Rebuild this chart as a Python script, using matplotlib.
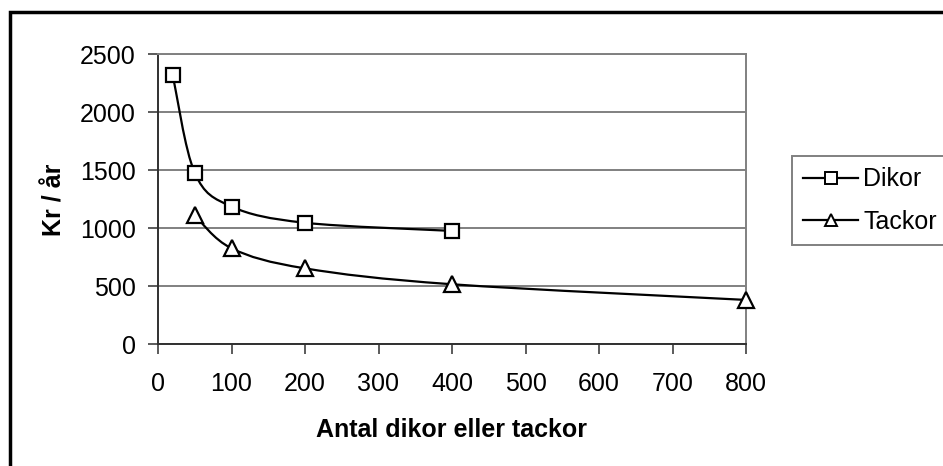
import matplotlib
matplotlib.use("Agg")
import matplotlib.pyplot as plt
from matplotlib.path import Path
from matplotlib.patches import PathPatch, Rectangle
from matplotlib.lines import Line2D
import numpy as np

plt.rcParams['font.family'] = ['Liberation Sans', 'DejaVu Sans']

dikor_x = [20, 50, 100, 200, 400]
dikor_y = [2320, 1475, 1185, 1045, 975]
tackor_x = [50, 100, 200, 400, 800]
tackor_y = [1110, 825, 652, 515, 380]
xticks = [0, 100, 200, 300, 400, 500, 600, 700, 800]
yticks = [0, 500, 1000, 1500, 2000, 2500]
series_names = ["Dikor", "Tackor"]
xlabel = "Antal dikor eller tackor"
ylabel = "Kr / år"

W, H = 943, 466
fig = plt.figure(figsize=(W / 100, H / 100), dpi=100)
ax = fig.add_axes([158 / W, 1 - 344 / H, (746 - 158) / W, (344 - 54) / H])

FS = 18


def smooth_path(xs, ys):
    pts = np.column_stack([xs, ys]).astype(float)
    n = len(pts)
    verts = [pts[0]]
    codes = [Path.MOVETO]
    for i in range(n - 1):
        p0 = pts[i - 1] if i > 0 else pts[i]
        p1 = pts[i]
        p2 = pts[i + 1]
        p3 = pts[i + 2] if i + 2 < n else pts[i + 1]
        c1 = p1 + (p2 - p0) / 6.0
        c2 = p2 - (p3 - p1) / 6.0
        verts += [c1, c2, p2]
        codes += [Path.CURVE4] * 3
    return Path(verts, codes)


for xs, ys, mk in [(dikor_x, dikor_y, 's'), (tackor_x, tackor_y, '^')]:
    patch = PathPatch(smooth_path(xs, ys), facecolor='none', edgecolor='black',
                      lw=1.6, zorder=3)
    ax.add_patch(patch)
    ax.plot(xs, ys, linestyle='none', marker=mk, markersize=10 if mk == 's' else 11,
            markerfacecolor='white', markeredgecolor='black', markeredgewidth=1.6,
            zorder=4, clip_on=False)

ax.set_xlim(0, 800)
ax.set_ylim(0, 2500)
ax.set_xticks(xticks)
ax.set_yticks(yticks)
ax.set_xticklabels([str(v) for v in xticks], fontsize=FS)
ax.set_yticklabels([str(v) for v in yticks], fontsize=FS)
ax.tick_params(axis='both', direction='out', length=7, width=1.2, color='#404040',
               pad=9)
ax.tick_params(axis='x', pad=13)
ax.yaxis.grid(True, color='#808080', lw=1.4, zorder=0)
ax.set_axisbelow(True)
for side in ['left', 'bottom']:
    ax.spines[side].set_color('#303030')
    ax.spines[side].set_linewidth(1.4)
for side in ['right', 'top']:
    ax.spines[side].set_color('#808080')
    ax.spines[side].set_linewidth(1.4)

ax.set_xlabel(xlabel, fontsize=FS, fontweight='bold', labelpad=16)
fig.text(54 / W, 1 - 200 / H, ylabel, rotation=90, fontsize=FS, fontweight='bold',
         ha='center', va='center')

handles = [
    Line2D([], [], color='black', lw=1.6, marker='s', markersize=8,
           markerfacecolor='white', markeredgecolor='black', markeredgewidth=1.4),
    Line2D([], [], color='black', lw=1.6, marker='^', markersize=9,
           markerfacecolor='white', markeredgecolor='black', markeredgewidth=1.4),
]
leg = fig.legend(handles, series_names, loc='upper left',
                 bbox_to_anchor=(792 / W, 1 - 156 / H), fontsize=FS,
                 frameon=True, fancybox=False, edgecolor='#606060',
                 handlelength=2.2, handletextpad=0.2, borderpad=0.45,
                 labelspacing=0.75, borderaxespad=0)
leg.get_frame().set_linewidth(1.4)

fig.add_artist(Rectangle((10 / W, -0.1), 1.2, 1 - 12 / H + 0.1,
                         transform=fig.transFigure, fill=False,
                         edgecolor='black', lw=2.5, clip_on=False))

fig.savefig("out.png", dpi=100)
